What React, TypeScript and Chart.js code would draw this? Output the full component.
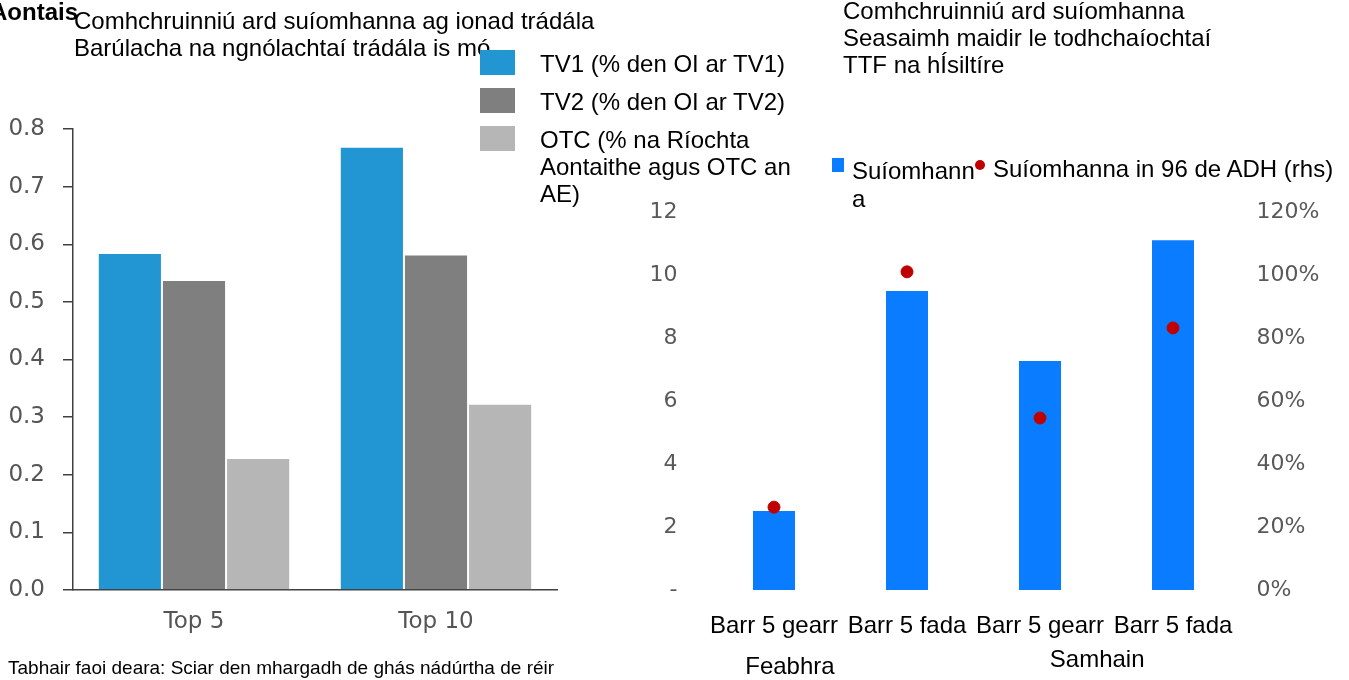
import React, { useEffect, useRef } from "react";
import { Chart, registerables } from "chart.js";

Chart.register(...registerables);

// ---- Left chart data ----
const leftCategories = ["Top 5", "Top 10"];
const tv1Values = [0.585, 0.769];
const tv2Values = [0.538, 0.582];
const otcValues = [0.229, 0.323];
const leftLegend = ["TV1 (% den OI ar TV1)", "TV2 (% den OI ar TV2)", "OTC (% na Ríochta Aontaithe agus OTC an AE)"];

// ---- Right chart data ----
const rightCategories = ["Barr 5 gearr", "Barr 5 fada", "Barr 5 gearr", "Barr 5 fada"];
const positionValues = [2.51, 9.49, 7.27, 11.1];
const adhPercentValues = [26.3, 101, 54.6, 83.2];
const groupLabels = ["Feabhra", "Samhain"];
const groupAnchors = [0.12, 2.43];

const FONT = "'Liberation Sans', Arial, sans-serif";
const TICKFONT = "'DejaVu Sans', sans-serif";

function LeftChart() {
  const ref = useRef<HTMLCanvasElement | null>(null);
  useEffect(() => {
    if (!ref.current) return;
    const chart = new Chart(ref.current, {
      type: "bar",
      data: {
        labels: leftCategories,
        datasets: [
          { label: leftLegend[0], data: tv1Values, backgroundColor: "#2196D3", borderColor: "#ffffff", borderWidth: 1, categoryPercentage: 0.795, barPercentage: 1 },
          { label: leftLegend[1], data: tv2Values, backgroundColor: "#7F7F7F", borderColor: "#ffffff", borderWidth: 1, categoryPercentage: 0.795, barPercentage: 1 },
          { label: leftLegend[2], data: otcValues, backgroundColor: "#B6B6B6", borderColor: "#ffffff", borderWidth: 1, categoryPercentage: 0.795, barPercentage: 1 },
        ],
      },
      options: {
        responsive: false,
        animation: false,
        layout: { padding: { top: 129, bottom: 40, left: 0, right: 43 } },
        plugins: { legend: { display: false }, tooltip: { enabled: false }, title: { display: false } },
        scales: {
          x: {
            grid: { display: false, drawTicks: false },
            border: { display: true, color: "#404040", width: 1.5 },
            ticks: { color: "#555555", font: { family: TICKFONT, size: 23 }, padding: 18 },
            afterFit: (s: any) => { s.height = 50; },
          },
          y: {
            min: 0,
            max: 0.8,
            ticks: {
              stepSize: 0.1,
              color: "#555555",
              font: { family: TICKFONT, size: 23 },
              padding: 18,
              callback: (v: any) => Number(v).toFixed(1),
            },
            grid: { display: true, drawOnChartArea: false, drawTicks: true, tickLength: 10, color: "#404040", lineWidth: 1.5 },
            border: { display: true, color: "#404040", width: 1.5 },
            afterFit: (s: any) => { s.width = 73; },
          },
        },
      },
    });
    return () => chart.destroy();
  }, []);
  return <canvas ref={ref} width={600} height={680} style={{ position: "absolute", left: 0, top: 0, width: 600, height: 680 }} />;
}

const groupLabelPlugin = {
  id: "groupLabels",
  afterDraw(chart: any) {
    const ctx = chart.ctx;
    const xs = chart.scales.x;
    ctx.save();
    ctx.fillStyle = "#000";
    ctx.font = `24px ${FONT}`;
    ctx.textAlign = "center";
    ctx.textBaseline = "middle";
    const ys = [667, 660];
    groupLabels.forEach((g, i) => {
      ctx.fillText(g, xs.getPixelForValue(groupAnchors[i]), ys[i]);
    });
    ctx.restore();
  },
};

function RightChart() {
  const ref = useRef<HTMLCanvasElement | null>(null);
  useEffect(() => {
    if (!ref.current) return;
    const chart = new Chart(ref.current, {
      type: "bar",
      data: {
        labels: rightCategories,
        datasets: [
          {
            type: "line" as any,
            label: "Suíomhanna in 96 de ADH (rhs)",
            data: adhPercentValues,
            yAxisID: "y1",
            showLine: false,
            pointRadius: 6,
            pointBackgroundColor: "#C00000",
            pointBorderColor: "#C00000",
            borderColor: "#C00000",
            backgroundColor: "#C00000",
          } as any,
          {
            label: "Suíomhanna",
            data: positionValues,
            yAxisID: "y",
            backgroundColor: "#0A7CFF",
            categoryPercentage: 1,
            barPercentage: 0.316,
          },
        ],
      },
      options: {
        responsive: false,
        animation: false,
        layout: { padding: { top: 212, bottom: 40, left: 0, right: 0 } },
        plugins: { legend: { display: false }, tooltip: { enabled: false } },
        scales: {
          x: {
            grid: { display: false, drawTicks: false },
            border: { display: false },
            ticks: { color: "#000", font: { family: FONT, size: 24 }, padding: 22, maxRotation: 0, autoSkip: false },
            afterFit: (s: any) => { s.height = 50; },
          },
          y: {
            position: "left",
            min: 0,
            max: 12,
            ticks: {
              stepSize: 2,
              color: "#595959",
              font: { family: TICKFONT, size: 22 },
              padding: 30,
              callback: (v: any) => (Number(v) === 0 ? "-" : String(v)),
            },
            grid: { display: false, drawTicks: false },
            border: { display: false },
            afterFit: (s: any) => { s.width = 87.5; },
          },
          y1: {
            position: "right",
            min: 0,
            max: 120,
            ticks: {
              stepSize: 20,
              color: "#595959",
              font: { family: TICKFONT, size: 22 },
              padding: 17,
              callback: (v: any) => `${v}%`,
            },
            grid: { display: false, drawTicks: false },
            border: { display: false },
            afterFit: (s: any) => { s.width = 109.5; },
          },
        },
      },
      plugins: [groupLabelPlugin],
    });
    return () => chart.destroy();
  }, []);
  return <canvas ref={ref} width={729} height={680} style={{ position: "absolute", left: 620, top: 0, width: 729, height: 680 }} />;
}

const txt = (extra: React.CSSProperties): React.CSSProperties => ({
  position: "absolute",
  fontFamily: FONT,
  fontSize: 24,
  lineHeight: "27px",
  color: "#000",
  whiteSpace: "nowrap",
  ...extra,
});

export default function App() {
  return (
    <div style={{ position: "absolute", left: 0, top: 0, width: 1349, height: 680, overflow: "hidden", background: "#fff" }}>
      <LeftChart />
      <RightChart />
      {/* left titles */}
      <div style={txt({ left: 74, top: 6.5 })}>Comhchruinniú ard suíomhanna ag ionad trádála</div>
      <div style={txt({ left: 74, top: 33.5 })}>Barúlacha na ngnólachtaí trádála is mó</div>
      <div style={txt({ left: -10, top: -2, fontWeight: "bold" })}>Aontais</div>
      {/* left legend */}
      <div style={{ position: "absolute", left: 480, top: 50, width: 35, height: 25, background: "#2196D3" }} />
      <div style={{ position: "absolute", left: 480, top: 88, width: 35, height: 25, background: "#7F7F7F" }} />
      <div style={{ position: "absolute", left: 480, top: 126, width: 35, height: 25, background: "#B6B6B6" }} />
      <div style={txt({ left: 540, top: 49.5 })}>{leftLegend[0]}</div>
      <div style={txt({ left: 540, top: 87.5 })}>{leftLegend[1]}</div>
      <div style={txt({ left: 540, top: 125.5 })}>
        OTC (% na Ríochta<br />Aontaithe agus OTC an<br />AE)
      </div>
      {/* right titles */}
      <div style={txt({ left: 843, top: -3.5 })}>Comhchruinniú ard suíomhanna</div>
      <div style={txt({ left: 843, top: 23.5 })}>Seasaimh maidir le todhchaíochtaí</div>
      <div style={txt({ left: 843, top: 50.5 })}>TTF na hÍsiltíre</div>
      {/* right legend */}
      <div style={{ position: "absolute", left: 832, top: 158, width: 12, height: 14, background: "#0A7CFF" }} />
      <div style={txt({ left: 852, top: 156.5 })}>Suíomhann</div>
      <div style={txt({ left: 852, top: 184.5 })}>a</div>
      <div style={{ position: "absolute", left: 975, top: 160, width: 10, height: 10, borderRadius: 5, background: "#C00000" }} />
      <div style={txt({ left: 993, top: 154.5 })}>Suíomhanna in 96 de ADH (rhs)</div>
      {/* footnote */}
      <div style={txt({ left: 8, top: 653.5, fontSize: 19 })}>Tabhair faoi deara: Sciar den mhargadh de ghás nádúrtha de réir</div>
    </div>
  );
}
